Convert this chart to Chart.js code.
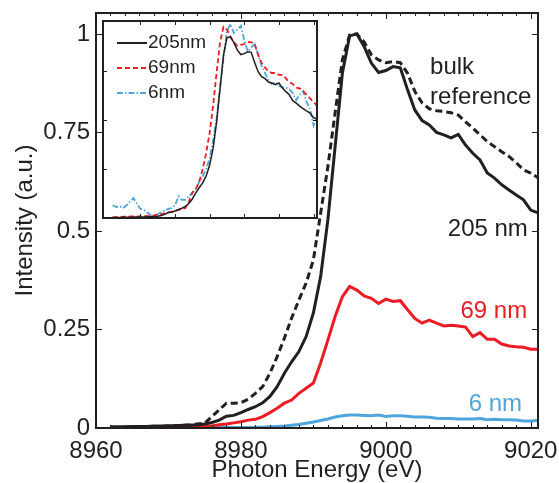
<!DOCTYPE html>
<html>
<head>
<meta charset="utf-8">
<script src="https://cdn.jsdelivr.net/npm/chart.js@4.4.1/dist/chart.umd.min.js"></script>
<style>
  html, body { margin: 0; padding: 0; background: #fff; }
  #wrap { position: relative; width: 559px; height: 483px; overflow: hidden; }
  #mainChart { position: absolute; left: 0; top: 0; }
  #insetChart { position: absolute; left: 98px; top: 16px; }
</style>
</head>
<body>
<div id="wrap">
  <canvas id="mainChart" width="559" height="483"></canvas>
  <canvas id="insetChart" width="224" height="207"></canvas>
</div>
<script>
// photon energy grid (eV)
const energy = [
  8962, 8963, 8964, 8965, 8966, 8967, 8968, 8969, 8970, 8971,
  8972, 8973, 8974, 8975, 8976, 8977, 8978, 8979, 8980, 8981,
  8982, 8983, 8984, 8985, 8986, 8987, 8988, 8989, 8990, 8991,
  8992, 8993, 8994, 8995, 8996, 8997, 8998, 8999, 9000, 9001,
  9002, 9003, 9004, 9005, 9006, 9007, 9008, 9009, 9010, 9011,
  9012, 9013, 9014, 9015, 9016, 9017, 9018, 9019, 9020, 9021
];

const bulkRef = [
  null, 0.001, 0.001, 0.002, 0.002, 0.003, 0.003, 0.004, 0.005, 0.006,
  0.007, 0.008, 0.010, 0.012, 0.029, 0.046, 0.063, 0.063, 0.064, 0.073,
  0.088, 0.105, 0.139, 0.181, 0.228, 0.279, 0.325, 0.368, 0.426, 0.545,
  0.663, 0.800, 0.934, 0.997, 1.000, 0.980, 0.947, 0.934, 0.927, 0.930,
  0.927, 0.900, 0.854, 0.825, 0.810, 0.805, 0.803, 0.800, 0.794, 0.777,
  0.761, 0.744, 0.727, 0.714, 0.701, 0.689, 0.673, 0.655, 0.647, 0.635
];

const film205 = [
  0.003, 0.003, 0.003, 0.004, 0.004, 0.004, 0.005, 0.005, 0.006, 0.006,
  0.007, 0.007, 0.008, 0.010, 0.014, 0.020, 0.030, 0.032, 0.039, 0.047,
  0.054, 0.064, 0.080, 0.105, 0.139, 0.168, 0.194, 0.232, 0.292, 0.384,
  0.528, 0.714, 0.900, 0.995, 1.000, 0.968, 0.926, 0.902, 0.907, 0.917,
  0.914, 0.858, 0.807, 0.780, 0.769, 0.750, 0.744, 0.736, 0.745, 0.718,
  0.697, 0.680, 0.647, 0.634, 0.617, 0.604, 0.591, 0.579, 0.553, 0.546
];

const film69 = [
  0.001, 0.001, 0.001, 0.001, 0.002, 0.002, 0.002, 0.002, 0.002, 0.003,
  0.003, 0.003, 0.004, 0.005, 0.005, 0.008, 0.010, 0.013, 0.016, 0.020,
  0.022, 0.029, 0.039, 0.050, 0.063, 0.071, 0.088, 0.101, 0.114, 0.165,
  0.223, 0.283, 0.333, 0.359, 0.350, 0.335, 0.329, 0.316, 0.327, 0.321,
  0.323, 0.300, 0.278, 0.266, 0.274, 0.266, 0.259, 0.261, 0.259, 0.256,
  0.232, 0.242, 0.225, 0.225, 0.213, 0.208, 0.206, 0.205, 0.200, 0.200
];

const film6 = [
  0.000, 0.001, 0.001, 0.001, 0.001, 0.001, 0.001, 0.001, 0.001, 0.001,
  0.001, 0.001, 0.001, 0.001, 0.001, 0.001, 0.001, 0.001, 0.001, 0.001,
  0.002, 0.002, 0.003, 0.004, 0.005, 0.007, 0.009, 0.012, 0.015, 0.019,
  0.023, 0.028, 0.031, 0.033, 0.033, 0.032, 0.031, 0.033, 0.029, 0.031,
  0.031, 0.030, 0.028, 0.028, 0.027, 0.025, 0.024, 0.024, 0.023, 0.023,
  0.023, 0.024, 0.021, 0.022, 0.021, 0.021, 0.020, 0.018, 0.018, 0.019
];

// inset: spectra normalised to their own edge
const inset69 = [
  0.005, 0.005, 0.008, 0.006, 0.010, 0.008, 0.010, 0.008, 0.010, 0.012,
  0.010, 0.012, 0.015, 0.020, 0.022, 0.025, 0.030, 0.035, 0.040, 0.045,
  0.050, 0.055, 0.090, 0.140, 0.160, 0.200, 0.270, 0.360, 0.470, 0.620,
  0.800, 0.970, 1.055, 1.040, 1.000, 0.970, 0.950, 0.955, 0.960, 0.970,
  0.970, 0.960, 0.900, 0.855, 0.830, 0.810, 0.800, 0.800, 0.790, 0.790,
  0.770, 0.750, 0.740, 0.720, 0.715, 0.700, 0.680, 0.660, 0.640, 0.620
];

const inset6 = [
  0.070, 0.060, 0.065, 0.055, 0.070, 0.090, 0.110, 0.080, 0.050, 0.045,
  0.030, 0.015, 0.005, 0.020, 0.033, 0.040, 0.050, 0.055, 0.070, 0.120,
  0.100, 0.100, 0.120, 0.140, 0.160, 0.200, 0.230, 0.270, 0.330, 0.430,
  0.550, 0.720, 0.880, 1.030, 1.070, 1.020, 1.040, 1.060, 0.980, 0.920,
  0.940, 0.960, 0.900, 0.840, 0.800, 0.760, 0.740, 0.750, 0.730, 0.720,
  0.720, 0.710, 0.690, 0.650, 0.680, 0.700, 0.640, 0.600, 0.510, 0.560
];

const xTicks = [8960, 8980, 9000, 9020];
const yTicks = [0, 0.25, 0.5, 0.75, 1];
const insetXTicks = [8970, 8980, 8990, 9000, 9010, 9020];
const insetYTicks = [0.27, 0.54, 0.81];

const ink = '#231f20';
const red = '#ed1c24';
const blue = '#4ea6dc';
const font = "'Liberation Sans', Arial, Helvetica, sans-serif";

Chart.defaults.font.family = font;
Chart.defaults.color = ink;

function pts(ys) {
  return energy.map((e, i) => ({ x: e, y: ys[i] }));
}

// box with inward ticks, matlab style
const frameTicks = {
  id: 'frameTicks',
  beforeDatasetsDraw(chart, args, opts) {
    if (!opts.fill) return;
    const a = chart.chartArea;
    chart.ctx.save();
    chart.ctx.fillStyle = opts.fill;
    chart.ctx.fillRect(a.left, a.top, a.width, a.height);
    chart.ctx.restore();
  },
  afterDatasetsDraw(chart, args, opts) {
    const { ctx, chartArea: a, scales: { x, y } } = chart;
    ctx.save();
    ctx.strokeStyle = ink;
    ctx.lineWidth = 1;
    ctx.beginPath();
    (opts.xMinor || []).forEach(v => {
      const px = Math.round(x.getPixelForValue(v)) + 0.5;
      ctx.moveTo(px, a.bottom); ctx.lineTo(px, a.bottom - opts.minorLen);
      ctx.moveTo(px, a.top); ctx.lineTo(px, a.top + opts.minorLen);
    });
    (opts.xMajor || []).forEach(v => {
      const px = Math.round(x.getPixelForValue(v)) + 0.5;
      ctx.moveTo(px, a.bottom); ctx.lineTo(px, a.bottom - opts.majorLen);
      ctx.moveTo(px, a.top); ctx.lineTo(px, a.top + opts.majorLen);
    });
    (opts.yMajor || []).forEach(v => {
      const py = Math.round(y.getPixelForValue(v)) + 0.5;
      ctx.moveTo(a.left, py); ctx.lineTo(a.left + opts.majorLen, py);
      ctx.moveTo(a.right, py); ctx.lineTo(a.right - opts.majorLen, py);
    });
    ctx.stroke();
    ctx.lineWidth = opts.frameWidth;
    ctx.strokeRect(a.left, a.top, a.width, a.height);
    ctx.restore();
  }
};

// curve labels on the main plot
const curveLabels = {
  id: 'curveLabels',
  afterDraw(chart) {
    const { ctx, scales: { x, y } } = chart;
    const items = [
      { text: 'bulk', e: 9006.1, v: 0.914, align: 'left', color: ink },
      { text: 'reference', e: 9006.1, v: 0.84, align: 'left', color: ink },
      { text: '205 nm', e: 9019.6, v: 0.503, align: 'right', color: ink },
      { text: '69 nm', e: 9019.5, v: 0.297, align: 'right', color: red },
      { text: '6 nm', e: 9018.8, v: 0.061, align: 'right', color: blue }
    ];
    ctx.save();
    ctx.font = '24px ' + font;
    ctx.textBaseline = 'middle';
    items.forEach(it => {
      ctx.fillStyle = it.color;
      ctx.textAlign = it.align;
      ctx.fillText(it.text, x.getPixelForValue(it.e), y.getPixelForValue(it.v));
    });
    ctx.restore();
  }
};

// legend inside the inset
const insetLegend = {
  id: 'insetLegend',
  afterDraw(chart) {
    const { ctx, chartArea: a } = chart;
    ctx.save();
    ctx.font = '19px ' + font;
    ctx.textBaseline = 'middle';
    ctx.textAlign = 'left';
    chart.data.datasets.forEach((ds, i) => {
      const yy = a.top + 22 + i * 25;
      ctx.strokeStyle = ds.borderColor;
      ctx.lineWidth = 2;
      ctx.setLineDash(ds.borderDash || []);
      ctx.beginPath();
      ctx.moveTo(a.left + 14, yy);
      ctx.lineTo(a.left + 44, yy);
      ctx.stroke();
      ctx.setLineDash([]);
      ctx.fillStyle = ink;
      ctx.fillText(ds.label, a.left + 45, yy);
    });
    ctx.restore();
  }
};

const xMinor = [];
for (let e = 8962; e <= 9020; e += 2) if (!xTicks.includes(e)) xMinor.push(e);

new Chart(document.getElementById('mainChart'), {
  type: 'line',
  data: {
    datasets: [
      { label: 'bulk reference', data: pts(bulkRef), borderColor: ink, borderWidth: 3, borderDash: [7, 4] },
      { label: '205 nm', data: pts(film205), borderColor: ink, borderWidth: 3 },
      { label: '69 nm', data: pts(film69), borderColor: red, borderWidth: 3 },
      { label: '6 nm', data: pts(film6), borderColor: blue, borderWidth: 3 }
    ]
  },
  options: {
    responsive: false,
    animation: false,
    devicePixelRatio: 1,
    elements: { point: { radius: 0 }, line: { tension: 0, fill: false } },
    layout: { padding: { top: 13, right: 21, left: 0, bottom: -2 } },
    plugins: {
      legend: { display: false },
      tooltip: { enabled: false },
      frameTicks: { xMajor: xTicks, xMinor: xMinor, yMajor: yTicks, majorLen: 6, minorLen: 3, frameWidth: 2 }
    },
    scales: {
      x: {
        type: 'linear',
        min: 8960,
        max: 9021,
        afterBuildTicks: scale => { scale.ticks = xTicks.map(v => ({ value: v })); },
        afterFit: scale => { scale.height = 57; scale.paddingLeft = 0; scale.paddingRight = 0; },
        grid: { display: false, drawTicks: false },
        border: { display: false },
        ticks: { font: { size: 24 }, color: ink, padding: 9, maxRotation: 0, autoSkip: false, callback: v => String(v) },
        title: { display: true, text: 'Photon Energy (eV)', font: { size: 24 }, color: ink, padding: { top: 0, bottom: 0 } }
      },
      y: {
        type: 'linear',
        min: 0,
        max: 1.053,
        afterBuildTicks: scale => { scale.ticks = yTicks.map(v => ({ value: v })); },
        afterFit: scale => { scale.width = 96; scale.paddingTop = 0; scale.paddingBottom = 0; },
        grid: { display: false, drawTicks: false },
        border: { display: false },
        ticks: { font: { size: 24 }, color: ink, padding: 6, callback: v => String(v) },
        title: { display: true, text: 'Intensity (a.u.)', font: { size: 24 }, color: ink, padding: { top: 11, bottom: 0 } }
      }
    }
  },
  plugins: [frameTicks, curveLabels]
});

new Chart(document.getElementById('insetChart'), {
  type: 'line',
  data: {
    datasets: [
      { label: '205nm', data: pts(film205), borderColor: ink, borderWidth: 1.5 },
      { label: '69nm', data: pts(inset69), borderColor: red, borderWidth: 1.8, borderDash: [5, 3] },
      { label: '6nm', data: pts(inset6), borderColor: blue, borderWidth: 1.8, borderDash: [6, 2, 1.5, 2] }
    ]
  },
  options: {
    responsive: false,
    animation: false,
    devicePixelRatio: 1,
    elements: { point: { radius: 0 }, line: { tension: 0, fill: false } },
    layout: { padding: 5 },
    plugins: {
      legend: { display: false },
      tooltip: { enabled: false },
      frameTicks: { fill: '#fff', xMajor: insetXTicks, yMajor: insetYTicks, majorLen: 4, minorLen: 2, frameWidth: 2 }
    },
    scales: {
      x: { type: 'linear', display: false, min: 8959.2, max: 9021 },
      y: { type: 'linear', display: false, min: 0, max: 1.087 }
    }
  },
  plugins: [frameTicks, insetLegend]
});
</script>
</body>
</html>
